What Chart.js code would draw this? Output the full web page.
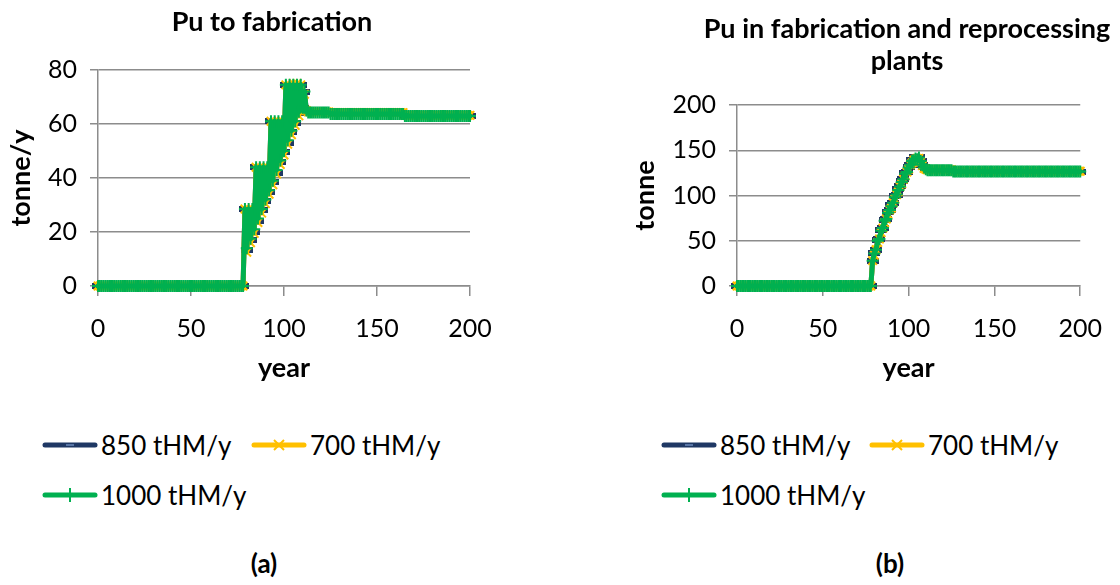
<!DOCTYPE html>
<html>
<head>
<meta charset="utf-8">
<script src="https://cdn.jsdelivr.net/npm/chart.js@4.4.0/dist/chart.umd.min.js"></script>
<style>
  body { margin: 0; width: 1120px; height: 585px; overflow: hidden; background: #fff; position: relative; font-family: Lato, sans-serif; color: #000; }
  .box { position: absolute; top: 0; height: 400px; }
  .ttl { position: absolute; font-weight: bold; font-size: 27px; text-align: center; white-space: nowrap; transform: translate(-50%, -50%); line-height: 32px; }
  .leg { position: absolute; display: flex; align-items: center; font-size: 26px; line-height: 28px; white-space: nowrap; }
  .leg svg { margin-right: 3px; }
  .lab { position: absolute; font-weight: bold; font-size: 26px; transform: translate(-50%, -50%); }
</style>
</head>
<body>
<div class="box" style="left:0;width:540px"><canvas id="chartA"></canvas></div>
<div class="box" style="left:560px;width:560px"><canvas id="chartB"></canvas></div>

<div class="ttl" style="left:272px;top:21px">Pu to fabrication</div>
<div class="ttl" style="left:907px;top:44px">Pu in fabrication and reprocessing<br>plants</div>

<div id="legA1" class="leg" style="left:42px;top:431px"></div>
<div id="legA2" class="leg" style="left:251px;top:431px"></div>
<div id="legA3" class="leg" style="left:42px;top:481px"></div>
<div id="legB1" class="leg" style="left:661px;top:431px"></div>
<div id="legB2" class="leg" style="left:869px;top:431px"></div>
<div id="legB3" class="leg" style="left:661px;top:481px"></div>

<div class="lab" style="left:264px;top:563px">(a)</div>
<div class="lab" style="left:890px;top:563px">(b)</div>

<script>
// years 0..200
var years = Array.from({length: 201}, function(_, i) { return i; });
var seriesNames = ['850 tHM/y', '700 tHM/y', '1000 tHM/y'];
var xTicks = [0, 50, 100, 150, 200];
var yTicksA = [0, 20, 40, 60, 80];
var yTicksB = [0, 50, 100, 150, 200];

// (a) Pu to fabrication, tonne/y
var fab850 = [
  0,0,0,0,0,0,0,0,0,0, 0,0,0,0,0,0,0,0,0,0, 0,0,0,0,0,0,0,0,0,0, 0,0,0,0,0,0,0,0,0,0,
  0,0,0,0,0,0,0,0,0,0, 0,0,0,0,0,0,0,0,0,0, 0,0,0,0,0,0,0,0,0,0, 0,0,0,0,0,0,0,0,0,28.5,
  13.5,28.5,17,28.5,20,44,24,44,28,44,
  31.5,44,35,61,38.5,61,42,61,46,61,
  49.5,74.5,53,74.5,57,74.5,60.5,74.5,64,74.5,
  66,72,65,64.3,64.3,64.3,64.3,64.3,64.3,64.3,
  64.3,64.3,64.3,64.3,64.3,63.6,63.6,63.6,63.6,63.6,
  63.6,63.6,63.6,63.6,63.6,63.6,63.6,63.6,63.6,63.6,
  63.6,63.6,63.6,63.6,63.6,63.6,63.6,63.6,63.6,63.6,
  63.6,63.6,63.6,63.6,63.6,63.6,63.6,63.6,63.6,63.6,
  63.6,63.6,63.6,63.6,63.6,63,63,63,63,63,
  63,63,63,63,63,63,63,63,63,63, 63,63,63,63,63,63,63,63,63,63, 63,63,63,63,63,63,63,63,63,63,
  63
];
var fab700 = [
  0,0,0,0,0,0,0,0,0,0, 0,0,0,0,0,0,0,0,0,0, 0,0,0,0,0,0,0,0,0,0, 0,0,0,0,0,0,0,0,0,0,
  0,0,0,0,0,0,0,0,0,0, 0,0,0,0,0,0,0,0,0,0, 0,0,0,0,0,0,0,0,0,0, 0,0,0,0,0,0,0,0,0,28.5,
  12.5,28.5,16,28.5,19.5,44,23.5,44,27,44,
  30.5,44,34,61,37.5,61,41.5,61,45,61,
  48.5,74.5,52.5,74.5,56,75,59.5,75,63,74.5,
  65.5,71,65,64.5,64.5,64.5,64.5,64.5,64.5,64.5,
  64.5,64.5,64.5,64.5,64.5,64.2,64.2,64.2,64.2,64.2,
  64.2,64.2,64.2,64.2,64.2,64.2,64.2,64.2,64.2,64.2,
  64.2,64.2,64.2,64.2,64.2,64.2,64.2,64.2,64.2,64.2,
  64.2,64.2,64.2,64.2,64.2,64.2,64.2,64.2,64.2,64.2,
  64.2,64.2,64.2,64.2,64.2,63.2,63.2,63.2,63.2,63.2,
  63.2,63.2,63.2,63.2,63.2,63.2,63.2,63.2,63.2,63.2,
  63.2,63.2,63.2,63.2,63.2,63.2,63.2,63.2,63.2,63.2,
  63.2,63.2,63.2,63.2,63.2,63.2,63.2,63.2,63.2,63.2,
  63.2
];
var fab1000 = [
  0,0,0,0,0,0,0,0,0,0, 0,0,0,0,0,0,0,0,0,0, 0,0,0,0,0,0,0,0,0,0, 0,0,0,0,0,0,0,0,0,0,
  0,0,0,0,0,0,0,0,0,0, 0,0,0,0,0,0,0,0,0,0, 0,0,0,0,0,0,0,0,0,0, 0,0,0,0,0,0,0,0,0,28.5,
  14,28.5,17.5,28.5,21,44,25,44,28.5,44,
  32,44,35.5,61,39,61,43,61,46.5,61,
  50,74.5,54,74.5,57.5,74.5,61,74.5,64.5,74.5,
  66,72,65,64.3,64.3,64.3,64.3,64.3,64.3,64.3,
  64.3,64.3,64.3,64.3,64.3,63.7,63.7,63.7,63.7,63.7,
  63.7,63.7,63.7,63.7,63.7,63.7,63.7,63.7,63.7,63.7,
  63.7,63.7,63.7,63.7,63.7,63.7,63.7,63.7,63.7,63.7,
  63.7,63.7,63.7,63.7,63.7,63.7,63.7,63.7,63.7,63.7,
  63.7,63.7,63.7,63.7,63.7,63,63,63,63,63,
  63,63,63,63,63,63,63,63,63,63, 63,63,63,63,63,63,63,63,63,63, 63,63,63,63,63,63,63,63,63,63,
  63
];

// (b) Pu in fabrication and reprocessing plants, tonne
var inv850 = [
  0,0,0,0,0,0,0,0,0,0, 0,0,0,0,0,0,0,0,0,0, 0,0,0,0,0,0,0,0,0,0, 0,0,0,0,0,0,0,0,0,0,
  0,0,0,0,0,0,0,0,0,0, 0,0,0,0,0,0,0,0,0,0, 0,0,0,0,0,0,0,0,0,0, 0,0,0,0,0,0,0,0,0,28,
  37,40,51,52,62,64,73,74,82,84,
  89,92,99,101,107,110,116,118,125,126,
  132,134,139,139,142,140,142,138,134,131,
  129,128,128,128,128,128,128,128,128,128,
  128,128,128,128,128,128,126.3,126.3,126.3,126.3,
  126.3,126.3,126.3,126.3,126.3,126.3,126.3,126.3,126.3,126.3,
  126.3,126.3,126.3,126.3,126.3,126.3,126.3,126.3,126.3,126.3,
  126.3,126.3,126.3,126.3,126.3,126.3,126.3,126.3,126.3,126.3,
  126.3,126.3,126.3,126.3,126.3,126.3,126.3,126.3,126.3,126.3,
  126.3,126.3,126.3,126.3,126.3,126.3,126.3,126.3,126.3,126.3,
  126.3,126.3,126.3,126.3,126.3,126.3,126.3,126.3,126.3,126.3,
  126.3,126.3,126.3,126.3,126.3,126.3,126.3,126.3,126.3,126.3,
  126.3
];
var inv700 = [
  0,0,0,0,0,0,0,0,0,0, 0,0,0,0,0,0,0,0,0,0, 0,0,0,0,0,0,0,0,0,0, 0,0,0,0,0,0,0,0,0,0,
  0,0,0,0,0,0,0,0,0,0, 0,0,0,0,0,0,0,0,0,0, 0,0,0,0,0,0,0,0,0,0, 0,0,0,0,0,0,0,0,0,28,
  34,40,48,52,59,64,70,74,79,84,
  86,92,96,101,104,110,113,118,122,126,
  129,134,136,139,140,141,141,137,133,130,
  129,128.5,128.5,128.5,128.5,128.5,128.5,128.5,128.5,128.5,
  128.5,128.5,128.5,128.5,128.5,128.5,126.8,126.8,126.8,126.8,
  126.8,126.8,126.8,126.8,126.8,126.8,126.8,126.8,126.8,126.8,
  126.8,126.8,126.8,126.8,126.8,126.8,126.8,126.8,126.8,126.8,
  126.8,126.8,126.8,126.8,126.8,126.8,126.8,126.8,126.8,126.8,
  126.8,126.8,126.8,126.8,126.8,126.8,126.8,126.8,126.8,126.8,
  126.8,126.8,126.8,126.8,126.8,126.8,126.8,126.8,126.8,126.8,
  126.8,126.8,126.8,126.8,126.8,126.8,126.8,126.8,126.8,126.8,
  126.8,126.8,126.8,126.8,126.8,126.8,126.8,126.8,126.8,126.8,
  126.8
];
var inv1000 = [
  0,0,0,0,0,0,0,0,0,0, 0,0,0,0,0,0,0,0,0,0, 0,0,0,0,0,0,0,0,0,0, 0,0,0,0,0,0,0,0,0,0,
  0,0,0,0,0,0,0,0,0,0, 0,0,0,0,0,0,0,0,0,0, 0,0,0,0,0,0,0,0,0,0, 0,0,0,0,0,0,0,0,0,28,
  36,40,50,52,61,64,72,74,81,84,
  88,92,98,101,106,110,115,118,124,126,
  131,134,138,139,141,140,142,138,134,131,
  129,128,128,128,128,128,128,128,128,128,
  128,128,128,128,128,128,126.5,126.5,126.5,126.5,
  126.5,126.5,126.5,126.5,126.5,126.5,126.5,126.5,126.5,126.5,
  126.5,126.5,126.5,126.5,126.5,126.5,126.5,126.5,126.5,126.5,
  126.5,126.5,126.5,126.5,126.5,126.5,126.5,126.5,126.5,126.5,
  126.5,126.5,126.5,126.5,126.5,126.5,126.5,126.5,126.5,126.5,
  126.5,126.5,126.5,126.5,126.5,126.5,126.5,126.5,126.5,126.5,
  126.5,126.5,126.5,126.5,126.5,126.5,126.5,126.5,126.5,126.5,
  126.5,126.5,126.5,126.5,126.5,126.5,126.5,126.5,126.5,126.5,
  126.5
];

var navy = '#1f3864', yellow = '#ffc000', green = '#00b050', axisGrey = '#8c8c8c';

// dash marker for the 850 series
var dash = document.createElement('canvas');
dash.width = 12; dash.height = 6;
var dctx = dash.getContext('2d');
dctx.fillStyle = navy; dctx.fillRect(0, 0, 12, 6);
dctx.fillStyle = '#7f9fd0'; dctx.fillRect(3, 2.5, 6, 1);

Chart.defaults.font.family = 'Lato';
Chart.defaults.color = '#000';

function makeDatasets(d850, d700, d1000) {
  var common = { borderWidth: 5, tension: 0, borderCapStyle: 'round', borderJoinStyle: 'round', fill: false, clip: 12 };
  return [
    Object.assign({ label: seriesNames[0], data: d850, borderColor: navy, backgroundColor: navy,
      pointStyle: dash, pointRadius: 4, order: 3 }, common),
    Object.assign({ label: seriesNames[1], data: d700, borderColor: yellow, backgroundColor: yellow,
      pointStyle: 'crossRot', pointRadius: 6, pointBorderWidth: 2, pointBorderColor: yellow, order: 2 }, common),
    Object.assign({ label: seriesNames[2], data: d1000, borderColor: green, backgroundColor: green,
      pointStyle: 'cross', pointRadius: 6, pointBorderWidth: 2, pointBorderColor: green, order: 1 }, common)
  ];
}

function makeChart(id, datasets, yTicks, yTitle, pad, yWidth) {
  var yMax = yTicks[yTicks.length - 1];
  return new Chart(document.getElementById(id), {
    type: 'line',
    data: { labels: years, datasets: datasets },
    options: {
      responsive: true,
      maintainAspectRatio: false,
      animation: false,
      layout: { padding: pad },
      plugins: { legend: { display: false }, tooltip: { enabled: false } },
      scales: {
        x: {
          type: 'linear', min: 0, max: 200,
          afterBuildTicks: function(s) { s.ticks = xTicks.map(function(v) { return { value: v }; }); },
          afterFit: function(s) { s.height = 114; },
          grid: { drawOnChartArea: false, drawTicks: true, tickLength: 10, color: axisGrey, lineWidth: 1.5 },
          border: { display: true, color: axisGrey, width: 1.5 },
          ticks: { font: { size: 25 }, padding: 18, maxRotation: 0 },
          title: { display: true, text: 'year', font: { size: 27, weight: 'bold' }, padding: { top: 0, bottom: 16 } }
        },
        y: {
          min: 0, max: yMax,
          afterBuildTicks: function(s) { s.ticks = yTicks.map(function(v) { return { value: v }; }); },
          afterFit: function(s) { s.width = yWidth; },
          grid: { color: axisGrey, lineWidth: 1.5, tickLength: 8 },
          border: { display: true, color: axisGrey, width: 1.5 },
          ticks: { font: { size: 25 }, padding: 13 },
          title: { display: true, text: yTitle, font: { size: 27, weight: 'bold' }, padding: { top: 1, bottom: 0 } }
        }
      }
    }
  });
}

makeChart('chartA', makeDatasets(fab850, fab700, fab1000), yTicksA, 'tonne/y',
  { top: 70, left: 4, right: 70, bottom: 0 }, 94);
makeChart('chartB', makeDatasets(inv850, inv700, inv1000), yTicksB, 'tonne',
  { top: 105, left: 68, right: 31, bottom: 0 }, 109);

// legends
function legendSymbol(color, marker) {
  var m = '';
  if (marker === 'dash') m = '<line x1="24" y1="8" x2="32" y2="8" stroke="#7f9fd0" stroke-width="1.2"/>';
  if (marker === 'x') m = '<line x1="23" y1="3" x2="33" y2="13" stroke="' + color + '" stroke-width="2"/><line x1="23" y1="13" x2="33" y2="3" stroke="' + color + '" stroke-width="2"/>';
  if (marker === 'plus') m = '<line x1="28" y1="1" x2="28" y2="15" stroke="' + color + '" stroke-width="2"/>';
  return '<svg width="56" height="16"><line x1="3" y1="8" x2="53" y2="8" stroke="' + color +
    '" stroke-width="5" stroke-linecap="round"/>' + m + '</svg>';
}
var legendDefs = [[navy, 'dash'], [yellow, 'x'], [green, 'plus']];
['A', 'B'].forEach(function(c) {
  for (var i = 0; i < 3; i++) {
    document.getElementById('leg' + c + (i + 1)).innerHTML =
      legendSymbol(legendDefs[i][0], legendDefs[i][1]) + '<span>' + seriesNames[i] + '</span>';
  }
});
</script>
</body>
</html>
